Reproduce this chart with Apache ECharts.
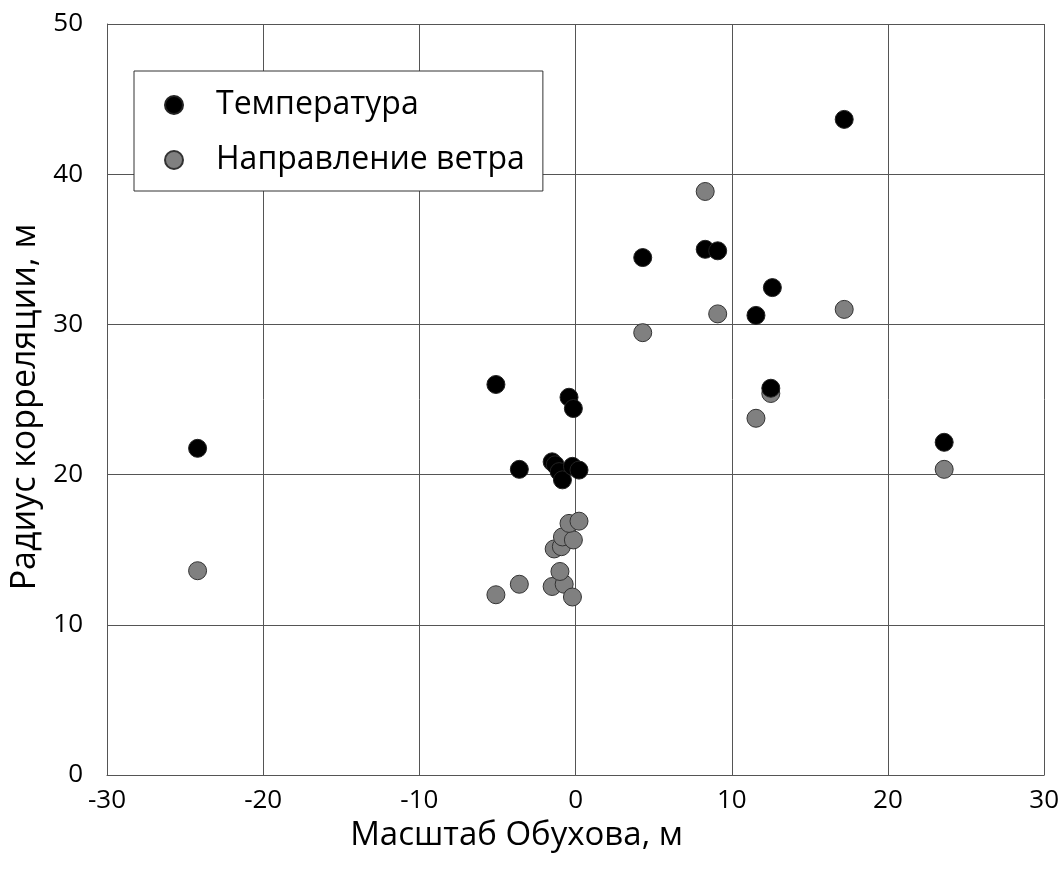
<!DOCTYPE html>
<html>
<head>
  <meta charset="utf-8">
  <title>Радиус корреляции</title>
  <script src="https://cdn.jsdelivr.net/npm/echarts@6/dist/echarts.min.js"></script>
  <style>
    html, body { margin: 0; padding: 0; background: #fff; }
    #main { width: 1062px; height: 870px; }
  </style>
</head>
<body>
<div id="main"></div>
<script>
  // Масштаб Обухова (x) и радиус корреляции (y)
  const tempX = [-24.2, -5.1, -3.6, -1.5, -1.3, -1.05, -0.84, -0.2, 0.22, -0.42, -0.14, 4.3, 8.3, 9.1, 11.55, 12.6, 12.5, 17.2, 23.6];
  const tempY = [21.75, 26.0, 20.35, 20.85, 20.65, 20.2, 19.65, 20.55, 20.3, 25.15, 24.4, 34.45, 35.0, 34.9, 30.6, 32.45, 25.75, 43.65, 22.15];

  const windX = [-24.2, -5.1, -3.6, -1.5, -0.73, -1.0, -0.2, -1.37, -0.91, -0.84, -0.14, -0.42, 0.22, 4.3, 8.3, 9.1, 11.55, 12.5, 17.2, 23.6];
  const windY = [13.6, 12.0, 12.7, 12.55, 12.7, 13.55, 11.85, 15.05, 15.2, 15.85, 15.65, 16.75, 16.9, 29.45, 38.85, 30.7, 23.75, 25.4, 31.0, 20.35];

  const seriesNames = ['Температура', 'Направление ветра'];

  const toPairs = (xs, ys) => xs.map((x, i) => [x, ys[i]]);

  const font = '"Open Sans", "Noto Sans", sans-serif';
  const chart = echarts.init(document.getElementById('main'));

  chart.setOption({
    animation: false,
    backgroundColor: '#fff',
    textStyle: { fontFamily: font },
    grid: { left: 107, right: 16, top: 24, bottom: 95 },
    legend: {
      data: seriesNames,
      orient: 'vertical',
      left: 134,
      top: 71,
      backgroundColor: '#fff',
      borderColor: '#333',
      borderWidth: 1,
      borderRadius: 0,
      padding: [16, 18, 13, 30],
      itemGap: 19,
      itemWidth: 18,
      itemHeight: 18,
      icon: 'circle',
      textStyle: {
        fontFamily: font,
        fontSize: 32,
        color: '#000',
        lineHeight: 36,
        padding: [0, 0, 0, 28]
      }
    },
    xAxis: {
      type: 'value',
      min: -30,
      max: 30,
      interval: 10,
      name: 'Масштаб Обухова, м',
      nameLocation: 'middle',
      nameGap: 37,
      nameTextStyle: { fontFamily: font, fontSize: 33, color: '#000', padding: [0, 118, 0, 0] },
      axisLine: { show: true, onZero: false, lineStyle: { color: '#555' } },
      axisTick: { show: false },
      axisLabel: { fontFamily: font, fontSize: 26, color: '#000', margin: 13 },
      splitLine: { show: true, lineStyle: { color: '#555', width: 1 } }
    },
    yAxis: {
      type: 'value',
      min: 0,
      max: 50,
      interval: 10,
      name: 'Радиус корреляции, м',
      nameLocation: 'middle',
      nameGap: 64,
      nameTextStyle: { fontFamily: font, fontSize: 34, color: '#000', padding: [0, 15, 0, 0] },
      axisLine: { show: true, onZero: false, lineStyle: { color: '#555' } },
      axisTick: { show: false },
      axisLabel: { fontFamily: font, fontSize: 26, color: '#000', margin: 24 },
      splitLine: { show: true, lineStyle: { color: '#555', width: 1 } }
    },
    series: [
      {
        name: seriesNames[0],
        type: 'scatter',
        symbolSize: 18,
        z: 3,
        itemStyle: { color: '#000', borderColor: '#222', borderWidth: 1, opacity: 1 },
        data: toPairs(tempX, tempY)
      },
      {
        name: seriesNames[1],
        type: 'scatter',
        symbolSize: 18,
        z: 2,
        itemStyle: { color: '#808080', borderColor: '#333', borderWidth: 1, opacity: 1 },
        data: toPairs(windX, windY)
      }
    ]
  });
</script>
</body>
</html>
